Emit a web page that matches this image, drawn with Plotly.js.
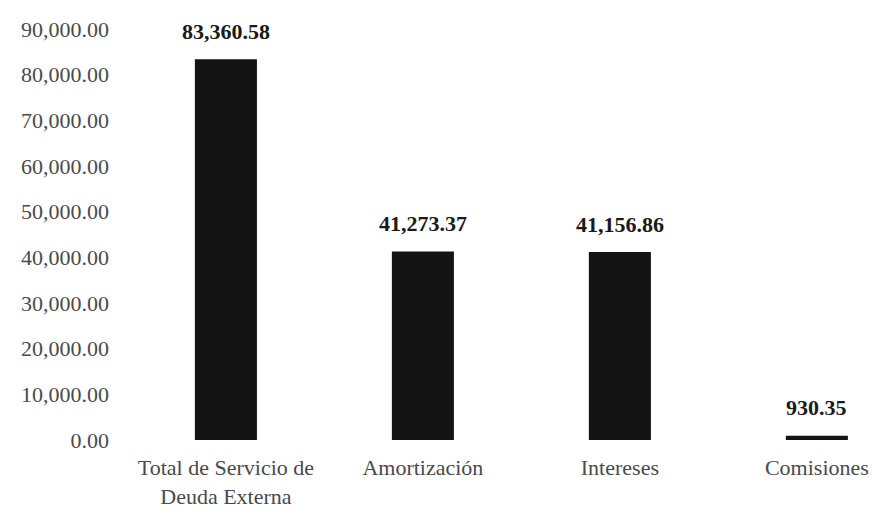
<!DOCTYPE html>
<html>
<head>
<meta charset="utf-8">
<script src="https://cdn.plot.ly/plotly-3.0.1.min.js"></script>
<style>html,body{margin:0;padding:0;background:#fff;}#chart{width:874px;height:513px;}</style>
</head>
<body>
<div id="chart"></div>
<script>
var categories = ["Total de Servicio de<br>Deuda Externa", "Amortización", "Intereses", "Comisiones"];
var values = [83360.58, 41273.37, 41156.86, 930.35];
var valueLabels = ["83,360.58", "41,273.37", "41,156.86", "930.35"];
var yTickValues = [0, 10000, 20000, 30000, 40000, 50000, 60000, 70000, 80000, 90000];

var xIdx = categories.map(function(c, i){ return i; });

var trace = {
  type: 'bar',
  x: xIdx,
  y: values,
  width: 0.315,
  marker: {color: '#141414'},
  hoverinfo: 'none'
};

var annotations = xIdx.map(function(i){
  return {
    x: i, y: values[i], xref: 'x', yref: 'y',
    text: valueLabels[i], showarrow: false,
    yanchor: 'middle', yshift: 28,
    font: {family: 'Liberation Serif', size: 22, color: '#1a1a1a', weight: 'bold'}
  };
});

var layout = {
  width: 874, height: 513,
  margin: {l: 115, r: 0, t: 29, b: 73},
  paper_bgcolor: '#ffffff', plot_bgcolor: '#ffffff',
  showlegend: false,
  font: {family: 'Liberation Serif', size: 22, color: '#444444'},
  xaxis: {
    range: [-0.563, 3.29],
    tickvals: xIdx, ticktext: categories,
    showgrid: false, zeroline: false, showline: false, ticks: '',
    ticklabelstandoff: 12,
    tickfont: {family: 'Liberation Serif', size: 22, color: '#4a4a4a'}
  },
  yaxis: {
    range: [0, 90000],
    tickvals: yTickValues, tickformat: ',.2f',
    showgrid: false, zeroline: false, showline: false, ticks: '',
    ticklabelstandoff: 5,
    tickfont: {family: 'Liberation Serif', size: 22, color: '#4a4a4a'}
  },
  annotations: annotations
};

Plotly.newPlot('chart', [trace], layout, {displayModeBar: false, staticPlot: true});
</script>
</body>
</html>
